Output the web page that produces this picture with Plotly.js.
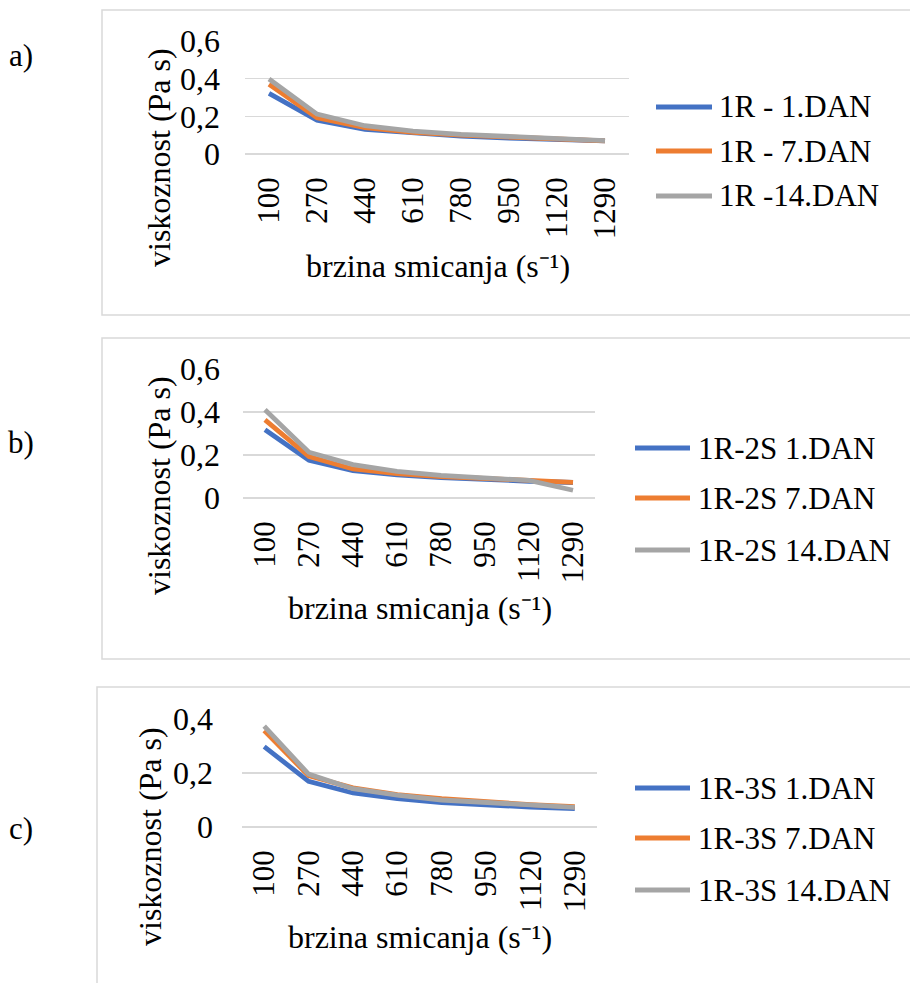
<!DOCTYPE html>
<html>
<head>
<meta charset="utf-8">
<script src="https://cdn.plot.ly/plotly-3.0.1.min.js"></script>
<style>html,body{margin:0;padding:0;background:#fff;}#chart{width:910px;height:983px;}</style>
</head>
<body>
<div id="chart"></div>
<script>
// ---- data ----
var categories = ['100', '270', '440', '610', '780', '950', '1120', '1290'];

var namesA = ['1R - 1.DAN', '1R - 7.DAN', '1R -14.DAN'];
var a_day1  = [0.322, 0.180, 0.131, 0.110, 0.095, 0.085, 0.077, 0.070];
var a_day7  = [0.370, 0.193, 0.140, 0.115, 0.100, 0.088, 0.078, 0.070];
var a_day14 = [0.398, 0.212, 0.150, 0.122, 0.104, 0.091, 0.080, 0.071];

var namesB = ['1R-2S 1.DAN', '1R-2S 7.DAN', '1R-2S 14.DAN'];
var b_day1  = [0.317, 0.176, 0.127, 0.108, 0.095, 0.085, 0.078, 0.072];
var b_day7  = [0.363, 0.193, 0.135, 0.114, 0.100, 0.090, 0.080, 0.073];
var b_day14 = [0.410, 0.213, 0.155, 0.124, 0.105, 0.094, 0.082, 0.036];

var namesC = ['1R-3S 1.DAN', '1R-3S 7.DAN', '1R-3S 14.DAN'];
var c_day1  = [0.298, 0.169, 0.126, 0.105, 0.090, 0.080, 0.074, 0.068];
var c_day7  = [0.357, 0.190, 0.145, 0.120, 0.105, 0.093, 0.083, 0.075];
var c_day14 = [0.374, 0.196, 0.142, 0.118, 0.100, 0.090, 0.080, 0.073];

var yTicksAB = [0, 0.2, 0.4, 0.6];
var yTextAB  = ['0', '0,2', '0,4', '0,6'];
var yTicksC  = [0, 0.2, 0.4];
var yTextC   = ['0', '0,2', '0,4'];

var panelLabels = ['a)', 'b)', 'c)'];
var xTitle = 'brzina smicanja (s\u207B\u00B9)';
var yTitle = 'viskoznost (Pa s)';

// ---- styling / layout ----
var W = 910, H = 983;
function px(x) { return x / W; }
function py(y) { return 1 - y / H; }
var colors = ['#4472C4', '#ED7D31', '#A5A5A5'];
var FONT = 'Liberation Serif, Times New Roman, serif';
var grid = '#d9d9d9';

var panels = [
  {x0: 245, x1: 629, yTop: 41,  yBot: 154, ymax: 0.6, tv: yTicksAB, tt: yTextAB, ystand: 24,
   series: [a_day1, a_day7, a_day14], names: namesA,
   leg: {lx0: 656, lx1: 712, tx: 717, ys: [107, 151, 196]},
   frame: [102, 10, 920, 315], label: [21, 55],
   ytitle: [159, 158], xtitle: [438, 266]},
  {x0: 243, x1: 595, yTop: 369, yBot: 498, ymax: 0.6, tv: yTicksAB, tt: yTextAB, ystand: 22,
   series: [b_day1, b_day7, b_day14], names: namesB,
   leg: {lx0: 635, lx1: 690, tx: 696, ys: [448, 498, 550]},
   frame: [102, 338, 920, 659], label: [21, 443],
   ytitle: [159, 486], xtitle: [420, 608]},
  {x0: 242, x1: 597, yTop: 719, yBot: 827, ymax: 0.4, tv: yTicksC, tt: yTextC, ystand: 28,
   series: [c_day1, c_day7, c_day14], names: namesC,
   leg: {lx0: 635, lx1: 690, tx: 696, ys: [788, 838, 890]},
   frame: [97, 687, 920, 995], label: [21, 828],
   ytitle: [150, 837], xtitle: [420, 937]}
];

var data = [];
var layout = {
  width: W, height: H,
  margin: {l: 0, r: 0, t: 0, b: 0},
  paper_bgcolor: '#fff', plot_bgcolor: 'rgba(0,0,0,0)',
  showlegend: false,
  font: {family: FONT, color: '#000', size: 30},
  shapes: [], annotations: []
};

panels.forEach(function (p, i) {
  var sfx = i === 0 ? '' : String(i + 1);
  var xa = 'x' + sfx, ya = 'y' + sfx;
  p.series.forEach(function (vals, k) {
    data.push({
      type: 'scatter', mode: 'lines', x: categories, y: vals, name: p.names[k],
      xaxis: xa, yaxis: ya,
      line: {color: colors[k], width: 4.8},
      hoverinfo: 'x+y+name'
    });
  });
  layout['xaxis' + sfx] = {
    domain: [px(p.x0), px(p.x1)], anchor: ya, type: 'category',
    categoryorder: 'array', categoryarray: categories,
    range: [-0.5, categories.length - 0.5],
    showgrid: false, showline: false, zeroline: false, ticks: '',
    tickangle: -90, ticklabelstandoff: 16,
    tickfont: {family: FONT, size: 31, color: '#000'}, fixedrange: true
  };
  layout['yaxis' + sfx] = {
    domain: [py(p.yBot), py(p.yTop)], anchor: xa,
    range: [0, p.ymax], tickmode: 'array', tickvals: p.tv, ticktext: p.tt,
    showgrid: true, gridcolor: grid, gridwidth: 1.5,
    zeroline: true, zerolinecolor: grid, zerolinewidth: 1.5,
    showline: false, ticks: '', ticklabelstandoff: p.ystand,
    tickfont: {family: FONT, size: 32, color: '#000'}, fixedrange: true
  };
  // frame
  layout.shapes.push({type: 'rect', xref: 'paper', yref: 'paper',
    x0: px(p.frame[0]), x1: px(p.frame[2]), y0: py(p.frame[3]), y1: py(p.frame[1]),
    line: {color: grid, width: 1.5}, fillcolor: 'rgba(0,0,0,0)', layer: 'below'});
  // legend
  p.names.forEach(function (nm, k) {
    layout.shapes.push({type: 'line', xref: 'paper', yref: 'paper',
      x0: px(p.leg.lx0), x1: px(p.leg.lx1), y0: py(p.leg.ys[k]), y1: py(p.leg.ys[k]),
      line: {color: colors[k], width: 4.8}});
    layout.annotations.push({xref: 'paper', yref: 'paper', x: px(p.leg.tx), y: py(p.leg.ys[k]),
      xanchor: 'left', yanchor: 'middle', showarrow: false, text: nm,
      font: {family: FONT, size: 31, color: '#000'}});
  });
  // axis titles
  layout.annotations.push({xref: 'paper', yref: 'paper', x: px(p.ytitle[0]), y: py(p.ytitle[1]),
    xanchor: 'center', yanchor: 'middle', showarrow: false, textangle: -90, text: yTitle,
    font: {family: FONT, size: 32, color: '#000'}});
  layout.annotations.push({xref: 'paper', yref: 'paper', x: px(p.xtitle[0]), y: py(p.xtitle[1]),
    xanchor: 'center', yanchor: 'middle', showarrow: false, text: xTitle,
    font: {family: FONT, size: 32, color: '#000'}});
  // panel label
  layout.annotations.push({xref: 'paper', yref: 'paper', x: px(p.label[0]), y: py(p.label[1]),
    xanchor: 'center', yanchor: 'middle', showarrow: false, text: panelLabels[i],
    font: {family: FONT, size: 31, color: '#000'}});
});

Plotly.newPlot('chart', data, layout, {displayModeBar: false, staticPlot: true});
</script>
</body>
</html>
